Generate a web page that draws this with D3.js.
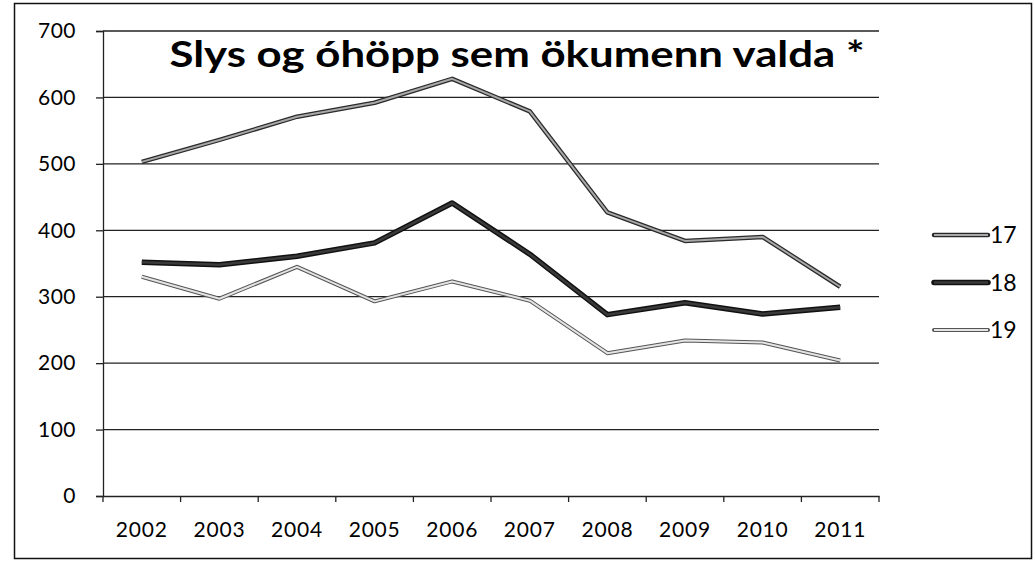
<!DOCTYPE html>
<html>
<head>
<meta charset="utf-8">
<script src="https://cdn.jsdelivr.net/npm/d3@7"></script>
<style>
  body { margin: 0; background: #fff; }
  svg { display: block; font-family: Lato, "Open Sans", sans-serif; }
</style>
</head>
<body>
<script>
// data
var years = ['2002','2003','2004','2005','2006','2007','2008','2009','2010','2011'];
var s17 = [503, 536, 571, 592, 628, 579, 427, 384, 390, 315];
var s18 = [352, 348, 361, 381, 441, 364, 273, 291, 274, 284];
var s19 = [330, 297, 345, 293, 323, 294, 215, 234, 231, 204];
var seriesNames = ['17', '18', '19'];
var yTicks = [0, 100, 200, 300, 400, 500, 600, 700];
var title = 'Slys og óhöpp sem ökumenn valda *';

var width = 1035, height = 563;
var margin = {left: 103, top: 31, right: 156, bottom: 67};

var x = d3.scaleBand()
    .domain(years)
    .range([margin.left, width - margin.right]),
  y = d3.scaleLinear()
    .domain([0, 700])
    .range([height - margin.bottom, margin.top]);

var svg = d3.select('body').append('svg')
    .attr('width', width)
    .attr('height', height);

// outer frame
svg.append('rect')
    .attr('x', 14.5).attr('y', 3.5)
    .attr('width', 1017).attr('height', 555)
    .style('fill', 'none').style('stroke', '#111').style('stroke-width', 1.5);

// gridlines
svg.append('g')
    .selectAll('line')
    .data(yTicks.slice(1))
  .enter().append('line')
    .attr('x1', margin.left).attr('x2', width - margin.right)
    .attr('y1', function(d) { return y(d); })
    .attr('y2', function(d) { return y(d); })
    .style('stroke', '#222').style('stroke-width', 1.3);

// y axis
var yAxis = d3.axisLeft(y).tickValues(yTicks).tickSize(7).tickPadding(20);
svg.append('g')
    .attr('class', 'axis')
    .attr('transform', 'translate(' + margin.left + ',0)')
    .call(yAxis)
    .call(function(g) {
      g.selectAll('text')
          .style('font-family', 'Lato, sans-serif').style('font-size', '21px')
          .style('fill', '#000').style('letter-spacing', '0.5px');
      g.selectAll('line, path').style('stroke', '#222').style('stroke-width', 1.3);
    });

// x axis with ticks between categories
var xAxis = d3.axisBottom(x).tickSize(0).tickPadding(26);
var gx = svg.append('g')
    .attr('class', 'axis')
    .attr('transform', 'translate(0,' + y(0) + ')')
    .call(xAxis)
    .call(function(g) {
      g.select('.domain').style('stroke', '#222').style('stroke-width', 1.3);
      g.selectAll('text')
          .style('font-family', 'Lato, sans-serif').style('font-size', '21px')
          .style('fill', '#000').style('letter-spacing', '0.8px');
    });
gx.selectAll('.sep')
    .data(years.concat(['end']))
  .enter().append('line')
    .attr('x1', function(d, i) { return i < years.length ? x(d) : x(years[years.length - 1]) + x.bandwidth(); })
    .attr('x2', function(d, i) { return i < years.length ? x(d) : x(years[years.length - 1]) + x.bandwidth(); })
    .attr('y1', 0).attr('y2', 6)
    .style('stroke', '#222').style('stroke-width', 1.3);

var line = d3.line()
    .x(function(d, i) { return x(years[i]) + x.bandwidth() / 2; })
    .y(function(d) { return y(d); });

// styles: [outer stroke, outer width, inner stroke, inner width]
var styles = [
  ['#2a2a2a', 4.5, '#a8a8a8', 2],
  ['#111', 5.5, '#3a3a3a', 2.5],
  ['#555', 4, '#e4e4e4', 2]
];
var allSeries = [s17, s18, s19];

allSeries.forEach(function(vals, k) {
  var st = styles[k];
  svg.append('path').datum(vals).attr('d', line)
      .style('fill', 'none').style('stroke', st[0]).style('stroke-width', st[1])
      .style('stroke-linejoin', 'round');
  svg.append('path').datum(vals).attr('d', line)
      .style('fill', 'none').style('stroke', st[2]).style('stroke-width', st[3])
      .style('stroke-linejoin', 'round');
});

// legend
var legend = svg.append('g').selectAll('g')
    .data(seriesNames)
  .enter().append('g')
    .attr('transform', function(d, i) { return 'translate(934,' + (235 + i * 47.5) + ')'; });
legend.append('line').attr('x1', 0).attr('x2', 54)
    .style('stroke', function(d, i) { return styles[i][0]; })
    .style('stroke-width', function(d, i) { return styles[i][1]; })
    .style('stroke-linecap', 'round');
legend.append('line').attr('x1', 0).attr('x2', 54)
    .style('stroke', function(d, i) { return styles[i][2]; })
    .style('stroke-width', function(d, i) { return styles[i][3]; });
legend.append('text')
    .attr('x', 56).attr('dy', '0.35em')
    .style('font-size', '23px')
    .text(function(d) { return d; });

// title
svg.append('text')
    .attr('x', 517).attr('y', 67)
    .attr('text-anchor', 'middle')
    .attr('textLength', 695)
    .attr('lengthAdjust', 'spacingAndGlyphs')
    .style('font-size', '36px').style('font-weight', 'bold')
    .text(title);
</script>
</body>
</html>
